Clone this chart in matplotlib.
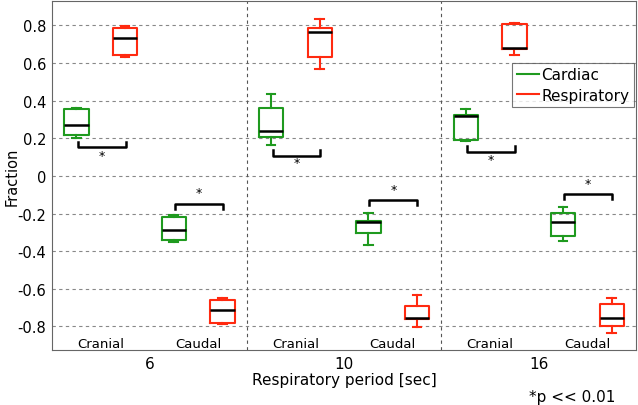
import numpy as np
import matplotlib.pyplot as plt

plt.rcParams['font.family'] = ['DejaVu Sans']

periods = ['6', '10', '16']
regions = ['Cranial', 'Caudal']
series = ['Cardiac', 'Respiratory']

# per group: [cranial cardiac, cranial resp, caudal cardiac, caudal resp]
# each: (whislo, q1, med, q3, whishi)
box_stats = [
    [(0.203, 0.217, 0.27, 0.358, 0.364),
     (0.635, 0.642, 0.733, 0.785, 0.799),
     (-0.35, -0.341, -0.286, -0.22, -0.208),
     (-0.789, -0.78, -0.713, -0.66, -0.651)],
    [(0.164, 0.208, 0.238, 0.362, 0.434),
     (0.567, 0.633, 0.765, 0.789, 0.836),
     (-0.369, -0.303, -0.243, -0.237, -0.198),
     (-0.805, -0.762, -0.757, -0.692, -0.634)],
    [(0.185, 0.19, 0.32, 0.322, 0.358),
     (0.642, 0.677, 0.68, 0.806, 0.815),
     (-0.346, -0.32, -0.243, -0.199, -0.164),
     (-0.836, -0.8, -0.757, -0.683, -0.651)],
]

# significance brackets: (line y, star y)
cranial_sig = [(0.153, 0.11), (0.108, 0.07), (0.129, 0.087)]
caudal_sig = [(-0.147, -0.089), (-0.126, -0.073), (-0.094, -0.041)]

green = '#1f9a1f'
red = '#ff2a10'

fig = plt.figure(figsize=(6.38, 4.06), dpi=100)
ax = fig.add_axes([0.0815, 0.1355, 0.9155, 0.8595])

offsets = [0.125, 0.375, 0.625, 0.875]
colors = [green, red, green, red]
for g in range(3):
    for k in range(4):
        lo, q1, med, q3, hi = box_stats[g][k]
        st = dict(whislo=lo, q1=q1, med=med, q3=q3, whishi=hi, fliers=[])
        c = colors[k]
        ax.bxp([st], positions=[g + offsets[k]], widths=0.125, capwidths=0.045,
               showfliers=False,
               boxprops=dict(color=c, lw=1.5),
               whiskerprops=dict(color=c, lw=1.5, ls='-'),
               capprops=dict(color=c, lw=1.5),
               medianprops=dict(color='black', lw=1.8))

    # brackets
    y, sy = cranial_sig[g]
    x0, x1 = g + 0.133, g + 0.378
    ax.plot([x0, x0, x1, x1], [y + 0.03, y, y, y + 0.03], color='black', lw=1.8)
    ax.text((x0 + x1) / 2, sy, '*', ha='center', va='center', fontsize=9)
    y, sy = caudal_sig[g]
    x0, x1 = g + 0.63, g + 0.877
    ax.plot([x0, x0, x1, x1], [y - 0.03, y, y, y - 0.03], color='black', lw=1.8)
    ax.text((x0 + x1) / 2, sy, '*', ha='center', va='center', fontsize=9)

    ax.text(g + 0.25, -0.89, regions[0], ha='center', va='center', fontsize=9.5)
    ax.text(g + 0.75, -0.89, regions[1], ha='center', va='center', fontsize=9.5)

for xv in [1, 2]:
    ax.axvline(xv, color='#555555', ls=(0, (3, 3)), lw=0.8)

ax.set_xlim(0, 3)
ax.set_ylim(-0.925, 0.93)
ax.set_xticks([0.5, 1.5, 2.5])
ax.set_xticklabels(periods, fontsize=11)
ax.set_yticks(np.arange(-0.8, 0.81, 0.2))
ax.set_yticklabels(['-0.8', '-0.6', '-0.4', '-0.2', '0', '0.2', '0.4', '0.6', '0.8'], fontsize=10.5)
ax.tick_params(length=0, pad=4)
ax.yaxis.grid(True, color='#888888', ls=(0, (3, 3)), lw=0.8)
for s in ax.spines.values():
    s.set_color('#666666')

ax.set_xlabel('Respiratory period [sec]', fontsize=11, labelpad=1)
ax.set_ylabel('Fraction', fontsize=10.5)
ax.yaxis.set_label_coords(-0.055, 0.5)

h1, = ax.plot([], [], color=green, lw=1.5)
h2, = ax.plot([], [], color=red, lw=1.5)
leg = ax.legend([h1, h2], series, loc='upper right', bbox_to_anchor=(1.0, 0.83),
                fontsize=11, fancybox=False, handlelength=1.45, handletextpad=0.15,
                borderpad=0.3, labelspacing=0.35, borderaxespad=0.15)
leg.get_frame().set_edgecolor('#555555')
leg.get_frame().set_linewidth(0.8)

fig.text(0.965, 0.022, '*p << 0.01', ha='right', va='center', fontsize=11)

fig.savefig('out.png', dpi=100)
